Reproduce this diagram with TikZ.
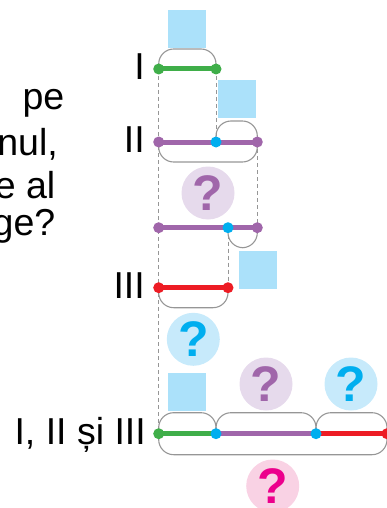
\documentclass[tikz,border=0pt]{standalone}
\usepackage{fontspec}
\setmainfont{Liberation Sans}
\usetikzlibrary{positioning, calc}
\definecolor{segI}{RGB}{63,174,73}
\definecolor{segII}{RGB}{160,102,170}
\definecolor{segIII}{RGB}{237,28,36}
\definecolor{joint}{RGB}{0,174,239}
\definecolor{boxcol}{RGB}{171,225,250}
\definecolor{qpurple}{RGB}{230,218,236}
\definecolor{qblue}{RGB}{199,234,251}
\definecolor{qpink}{RGB}{249,210,228}
\definecolor{qmagenta}{RGB}{236,0,140}
\definecolor{capgray}{RGB}{150,150,150}
\tikzset{
  seg/.style={line width=5pt},
  dot/.style={circle, inner sep=0pt, minimum size=11pt},
  capline/.style={capgray, line width=1.1pt, rounded corners=15pt},
  guide/.style={capgray, line width=0.9pt, dash pattern=on 4pt off 3pt},
  blank/.style={fill=boxcol, draw=none, minimum size=38pt, inner sep=0pt},
  quest/.style={circle, minimum size=53pt, inner sep=0pt,
                font=\fontsize{50}{50}\selectfont\bfseries},
  lbl/.style={anchor=base east, inner sep=0pt,
              font=\fontsize{37.5}{40}\selectfont},
}

\begin{document}
\begin{tikzpicture}[x=1pt,y=-1pt]
\useasboundingbox (0,0) rectangle (387,508);

% ── Question text (cut at the left edge) ─────────────────────────────────────
\node[lbl] (txtA) at (64.5,110) {pe};
\node[lbl] (txtB) at (58,155) {nul,};
\node[lbl] (txtC) at (55.5,198) {e al};
\node[lbl] (txtD) at (55.5,235) {ge?};

% ── End points of the segments ───────────────────────────────────────────────
\coordinate (Ia)   at (158.7,69);
\coordinate (Ib)   at (216,69);
\coordinate (IIa)  at (158.7,142);
\coordinate (IIm)  at (216,142);
\coordinate (IIb)  at (257.3,142);
\coordinate (Ka)   at (158.7,227.7);
\coordinate (Km)   at (228,227.7);
\coordinate (Kb)   at (257.3,227.7);
\coordinate (IIIa) at (158.7,287.7);
\coordinate (IIIb) at (228,287.7);
\coordinate (Ta)   at (158.7,433.7);
\coordinate (T1)   at (216,433.7);
\coordinate (T2)   at (316,433.7);
\coordinate (Tb)   at (387,433.7);

% Dashed guides
\draw[guide] (Ia) -- (Ta);
\draw[guide] (Ib) -- (IIm);
\draw[guide] (IIb) -- (Kb);
\draw[guide] (Km) -- (IIIb);

% Caps above / below the segments
\draw[capline] (Ia) -- ++(0,-20) -| (Ib);
\draw[capline] (IIm) -- ++(0,-21) -| (IIb);
\draw[capline] (IIa) -- ++(0,20) -| (IIb);
\draw[capline] (Km) -- ++(0,20) -| (Kb);
\draw[capline] (IIIa) -- ++(0,20) -| (IIIb);
\foreach \p/\q in {Ta/T1, T1/T2, T2/Tb}
  \draw[capline] (\p) -- ++(0,-21) -| (\q);
\draw[capline] (Ta) -- ++(0,21) -| (Tb);

% Coloured segments
\draw[seg, segI]   (Ia) -- (Ib);
\draw[seg, segII]  (IIa) -- (IIb);
\draw[seg, segII]  (Ka) -- (Kb);
\draw[seg, segIII] (IIIa) -- (IIIb);
\draw[seg, segI]   (Ta) -- (T1);
\draw[seg, segII]  (T1) -- (T2);
\draw[seg, segIII] (T2) -- (Tb);

% Dots
\foreach \pt/\col in {Ia/segI, Ib/segI, IIa/segII, IIb/segII, IIm/joint,
                      Ka/segII, Kb/segII, Km/joint, IIIa/segIII, IIIb/segIII,
                      Ta/segI, T1/joint, T2/joint, Tb/segIII}
  \node[dot, fill=\col] at (\pt) {};

% ── Blank boxes ──────────────────────────────────────────────────────────────
\node[blank] (boxI)   at (187,29)  {};
\node[blank] (boxII)  at (237,99)  {};
\node[blank] (boxIII) at (258,270) {};
\node[blank] (boxT)   at (187,392) {};

% ── Question marks ───────────────────────────────────────────────────────────
\node[quest, fill=qpurple, text=segII] (qII)   at (208,193)   {?};
\node[quest, fill=qblue, text=joint]   (qIII)  at (193.3,339.3) {?};
\node[quest, fill=qpurple, text=segII] (qTII)  at (266,384)   {?};
\node[quest, fill=qblue, text=joint]   (qTIII) at (351,384)   {?};
\node[quest, fill=qpink, text=qmagenta] (qT)   at (272.7,486) {?};

% ── Row labels ───────────────────────────────────────────────────────────────
\node[lbl] (labI)   at (145,79.5)  {I};
\node[lbl] (labII)  at (145,152.5) {II};
\node[lbl] (labIII) at (145,298.2) {III};
\node[lbl] (labT)   at (146,444.2) {I, II și III};

\end{tikzpicture}
\end{document}
